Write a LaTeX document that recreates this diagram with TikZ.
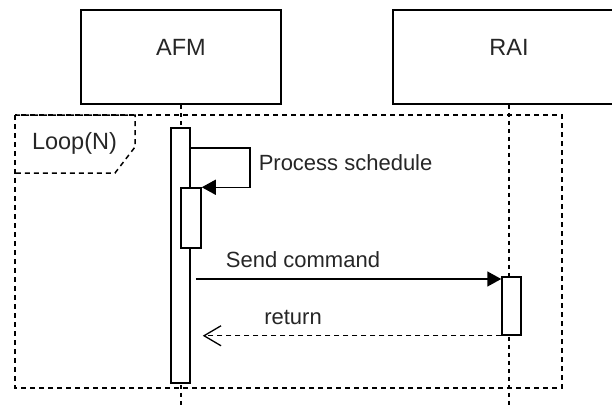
\documentclass[tikz,border=0pt]{standalone}
\usepackage{fontspec}
\setmainfont{Liberation Sans}
\usetikzlibrary{arrows.meta}
\begin{document}
\begin{tikzpicture}[x=1pt,y=-1pt,line width=1.5pt,
  every node/.style={font=\fontsize{22}{26}\selectfont, text=black!85},
  bigtext/.style={font=\fontsize{23.5}{28}\selectfont},
  headbox/.style={draw, bigtext, minimum height=94pt, inner sep=0pt, text depth=19pt},
  actbox/.style={draw, fill=white, inner sep=0pt},
  lifeline/.style={dash pattern=on 4pt off 4pt},
  framedash/.style={dash pattern=on 5pt off 4pt},
  msg/.style={-{Triangle[length=14pt,width=15pt]}},
  retmsg/.style={line width=1.3pt, dash pattern=on 5pt off 4pt, -{Straight Barb[length=17pt,width=20pt]}},
  lbl/.style={inner sep=0pt}]
\useasboundingbox (0,0) rectangle (612,405);
\clip (0,0) rectangle (612,405);
% lifeline heads
\node[headbox, minimum width=200pt] (afm) at (181,57) {AFM};
\node[headbox, minimum width=232pt] (rai) at (509,57) {RAI};
\coordinate (afmend) at (181,405);
\coordinate (raiend) at (509,405);
\draw[lifeline] (afm.south) -- (afmend);
\draw[lifeline] (rai.south) -- (raiend);
% loop frame
\coordinate (fnw) at (15,115);
\coordinate (fse) at (562,388);
\draw[framedash] (fnw) rectangle (fse);
\draw[framedash] (fnw) -- (135,115) -- (135,147) -- (115,173) -- (15,173);
\node[lbl, bigtext] (looplbl) at (74.5,143) {Loop(N)};
% activations
\node[actbox, minimum width=19pt, minimum height=255pt] (act1) at (180.5,255.5) {};
\node[actbox, minimum width=20pt, minimum height=60pt] (act2) at (191,218) {};
\node[actbox, minimum width=19pt, minimum height=58pt] (act3) at (511.5,306) {};
% self message
\coordinate (selfc) at (250,148);
\draw[msg] (act1.east |- selfc) -- (selfc) |- (act2.north east);
\node[lbl, anchor=west] (ps) at (258,163) {Process schedule};
% send command
\coordinate (sendy) at (0,279);
\draw[msg] ([xshift=5pt]act1.east |- sendy) -- (act3.west |- sendy);
\node[lbl] (sc) at (303,260) {Send command};
% return
\draw[retmsg] (act3.south west) -- ([xshift=12pt]act1.east |- act3.south west);
\node[lbl] (rt) at (293,317) {return};
\end{tikzpicture}
\end{document}
